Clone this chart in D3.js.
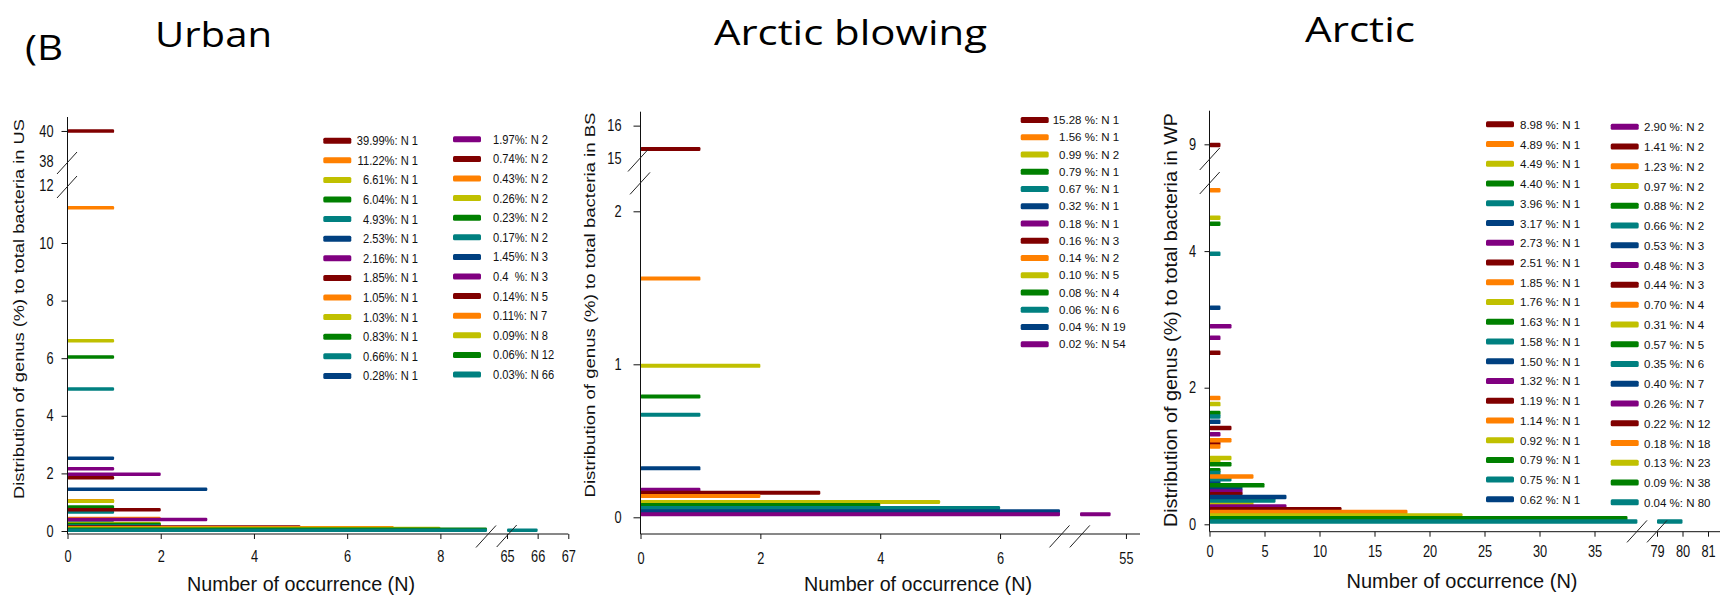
<!DOCTYPE html>
<html>
<head>
<meta charset="utf-8">
<script src="https://cdn.jsdelivr.net/npm/d3@7"></script>
<style>
  body { margin: 0; background: #fff; }
  svg { display: block; font-family: "Liberation Sans", Arial, sans-serif; }
  text { white-space: pre; }
</style>
</head>
<body>
<svg id="chart" width="1720" height="599"></svg>
<script>
const palette = ['#800000', '#ff8000', '#c0c000', '#008000', '#008080', '#004080', '#800080'];

// Urban (US)
const urbanPct = [39.99, 11.22, 6.61, 6.04, 4.93, 2.53, 2.16, 1.85, 1.05, 1.03, 0.83, 0.66, 0.28,
                  1.97, 0.74, 0.43, 0.26, 0.23, 0.17, 1.45, 0.4, 0.14, 0.11, 0.09, 0.06, 0.03];
const urbanN = [1, 1, 1, 1, 1, 1, 1, 1, 1, 1, 1, 1, 1,
                2, 2, 2, 2, 2, 2, 3, 3, 5, 7, 8, 12, 66];

// Arctic blowing (BS)
const blowingPct = [15.28, 1.56, 0.99, 0.79, 0.67, 0.32, 0.18, 0.16, 0.14, 0.10, 0.08, 0.06, 0.04, 0.02];
const blowingN = [1, 1, 2, 1, 1, 1, 1, 3, 2, 5, 4, 6, 19, 54];

// Arctic (WP)
const arcticPct = [8.98, 4.89, 4.49, 4.40, 3.96, 3.17, 2.73, 2.51, 1.85, 1.76, 1.63, 1.58, 1.50, 1.32, 1.19, 1.14, 0.92, 0.79, 0.75, 0.62,
                   2.90, 1.41, 1.23, 0.97, 0.88, 0.66, 0.53, 0.48, 0.44, 0.70, 0.31, 0.57, 0.35, 0.40, 0.26, 0.22, 0.18, 0.13, 0.09, 0.04];
const arcticN = [1, 1, 1, 1, 1, 1, 1, 1, 1, 1, 1, 1, 1, 1, 1, 1, 1, 1, 1, 1,
                 2, 2, 2, 2, 2, 2, 3, 3, 3, 4, 4, 5, 6, 7, 7, 12, 18, 23, 38, 80];

// tick labels
const urbanYTicksLow = [0, 2, 4, 6, 8, 10, 12], urbanYTicksHigh = [38, 40];
const urbanXTicksLow = [0, 2, 4, 6, 8], urbanXTicksHigh = [65, 66, 67];
const blowingYTicksLow = [0, 1, 2], blowingYTicksHigh = [15, 16];
const blowingXTicksLow = [0, 2, 4, 6], blowingXTicksHigh = [55];
const arcticYTicksLow = [0, 2, 4], arcticYTicksHigh = [9];
const arcticXTicksLow = [0, 5, 10, 15, 20, 25, 30, 35], arcticXTicksHigh = [79, 80, 81];

const svg = d3.select('#chart');

function label(parent, x, y, txt, size, sx, anchor) {
  return parent.append('text')
    .attr('transform', `translate(${x},${y}) scale(${sx},1)`)
    .attr('text-anchor', anchor || 'start')
    .attr('font-size', size)
    .attr('fill', '#111')
    .text(txt);
}

function slash(g, cx, cy) {
  g.append('line')
    .attr('x1', cx - 10).attr('y1', cy + 11)
    .attr('x2', cx + 10).attr('y2', cy - 11)
    .attr('stroke', '#222').attr('stroke-width', 1);
}

const fmtUrban = v => Math.round(v * 100) % 10 === 0 && v < 1 ? v.toFixed(1) + '  ' : v.toFixed(2);
const fmtOther = v => v.toFixed(2) + ' ';

const panels = [
  {
    pct: urbanPct, n: urbanN, fmt: fmtUrban,
    ax: 67.5, axY: 534, top: 117, xEnd: 568.3, tickY: 6, tickLabelGap: 14, xLabelY: 562,
    yLow: d3.scaleLinear().domain([0, 12]).range([531, 185.4]),
    yHigh: d3.scaleLinear().domain([38, 40.93]).range([161, 117]),
    xLow: d3.scaleLinear().domain([0, 9]).range([67.5, 487]),
    xHigh: d3.scaleLinear().domain([65, 67]).range([507, 568.3]),
    yTicksLow: urbanYTicksLow, yTicksHigh: urbanYTicksHigh, labelOnly: [12, 38],
    xTicksLow: urbanXTicksLow, xTicksHigh: urbanXTicksHigh,
    ySlashes: [[67, 163], [67, 187]], xSlashes: [[486, 536.5], [506.7, 536]],
    barH: 3.5,
    legend: { size: 12.5, sx: 0.89, cols: [
      { from: 0, to: 13, swX: 323.3, tx: 418, anchor: 'end', y0: 140.7, dy: 19.6 },
      { from: 13, to: 26, swX: 453, tx: 493, anchor: 'start', y0: 139.3, dy: 19.6 }] },
    yTitle: { text: 'Distribution of genus (%) to total bacteria in US', x: 24, y: 309, len: 380, size: 15 },
    xTitle: { x: 301, y: 591, len: 228 },
    title: { text: 'Urban', x: 155, y: 47, len: 117 }
  },
  {
    pct: blowingPct, n: blowingN, fmt: fmtOther,
    ax: 640.5, axY: 534, top: 111.7, xEnd: 1140, tickY: 7, tickLabelGap: 19, xLabelY: 564,
    yLow: d3.scaleLinear().domain([0, 2.2]).range([517.3, 180.7]),
    yHigh: d3.scaleLinear().domain([14.9, 16.43]).range([161.3, 111.7]),
    xLow: d3.scaleLinear().domain([0, 7]).range([640.5, 1060]),
    xHigh: d3.scaleLinear().domain([52, 55.5]).range([1080, 1133.6]),
    yTicksLow: blowingYTicksLow, yTicksHigh: blowingYTicksHigh, labelOnly: [15],
    xTicksLow: blowingXTicksLow, xTicksHigh: blowingXTicksHigh,
    ySlashes: [[638, 160.5], [640, 183.4]], xSlashes: [[1059.5, 536.4], [1079.8, 536.4]],
    barH: 4,
    legend: { size: 11.5, sx: 1, split: true, cols: [
      { from: 0, to: 14, swX: 1020.7, tx: 1081.5, anchor: 'end', y0: 120, dy: 17.25 }] },
    yTitle: { text: 'Distribution of genus (%) to total bacteria in BS', x: 595, y: 305, len: 385, size: 15 },
    xTitle: { x: 918, y: 591, len: 228 },
    title: { text: 'Arctic blowing', x: 714, y: 45, len: 273 }
  },
  {
    pct: arcticPct, n: arcticN, fmt: fmtOther,
    ax: 1209.5, axY: 531.7, top: 110.7, xEnd: 1720, tickY: 5, tickLabelGap: 13.5, xLabelY: 557,
    yLow: d3.scaleLinear().domain([0, 5]).range([524.3, 182.8]),
    yHigh: d3.scaleLinear().domain([8.5, 9.99]).range([161.3, 110.7]),
    xLow: d3.scaleLinear().domain([0, 38.9]).range([1209.5, 1637.4]),
    xHigh: d3.scaleLinear().domain([79, 81.5]).range([1657, 1720.75]),
    yTicksLow: arcticYTicksLow, yTicksHigh: arcticYTicksHigh, labelOnly: [],
    xTicksLow: arcticXTicksLow, xTicksHigh: arcticXTicksHigh,
    ySlashes: [[1209.7, 159], [1209.7, 183]], xSlashes: [[1637, 531.4], [1657, 531.4]],
    barH: 4.5,
    legend: { size: 11.5, sx: 1, cols: [
      { from: 0, to: 20, swX: 1486, tx: 1520, anchor: 'start', y0: 124.3, dy: 19.74 },
      { from: 20, to: 40, swX: 1610.7, tx: 1644, anchor: 'start', y0: 126.7, dy: 19.77 }] },
    yTitle: { text: 'Distribution of genus (%) to total bacteria in WP', x: 1177, y: 320, len: 414, size: 19 },
    xTitle: { x: 1462, y: 588, len: 231 },
    title: { text: 'Arctic', x: 1305, y: 42, len: 110 }
  }
];

function styleYAxis(sel, p) {
  sel.select('.domain').remove();
  sel.selectAll('.tick line').attr('stroke', '#111');
  sel.selectAll('.tick').filter(d => p.labelOnly.includes(d)).select('line').remove();
  sel.selectAll('.tick text')
    .attr('x', null)
    .attr('fill', '#111')
    .attr('font-size', 16)
    .attr('font-family', '"Liberation Sans", Arial, sans-serif')
    .attr('transform', `translate(${-p.tickLabelGap},0) scale(0.8,1)`);
}

function styleXAxis(sel, p) {
  sel.select('.domain').remove();
  sel.selectAll('.tick line').attr('stroke', '#111');
  sel.selectAll('.tick text')
    .attr('y', null).attr('dy', null)
    .attr('fill', '#111')
    .attr('font-size', 16)
    .attr('font-family', '"Liberation Sans", Arial, sans-serif')
    .attr('transform', `translate(0,${p.xLabelY - p.axY}) scale(0.8,1)`);
}

panels.forEach(p => {
  const g = svg.append('g');
  const yLowMax = p.yLow.domain()[1];
  const xLowMax = p.xLow.domain()[1];
  const xHighMin = p.xHigh.domain()[0];
  const rows = p.pct.map((v, i) => ({ v, n: p.n[i], c: palette[i % 7], i }));

  // bars
  rows.forEach(d => {
    const ys = d.v <= yLowMax ? p.yLow : p.yHigh;
    const y = ys(d.v) - p.barH / 2;
    g.append('rect')
      .attr('x', p.xLow(0)).attr('y', y)
      .attr('width', p.xLow(Math.min(d.n, xLowMax)) - p.xLow(0))
      .attr('height', p.barH).attr('rx', 1.2)
      .attr('fill', d.c);
    if (d.n > xHighMin) {
      g.append('rect')
        .attr('x', p.xHigh(xHighMin)).attr('y', y)
        .attr('width', p.xHigh(d.n) - p.xHigh(xHighMin))
        .attr('height', p.barH).attr('rx', 1.2)
        .attr('fill', d.c);
    }
  });

  // axes lines
  g.append('line').attr('x1', p.ax).attr('x2', p.ax).attr('y1', p.top).attr('y2', p.axY)
    .attr('stroke', '#111');
  g.append('line').attr('x1', p.ax).attr('x2', p.xEnd).attr('y1', p.axY).attr('y2', p.axY)
    .attr('stroke', '#111');

  const ax = p.ax;
  g.append('g').attr('transform', `translate(${ax},0)`)
    .call(d3.axisLeft(p.yLow).tickValues(p.yTicksLow).tickSize(p.tickY).tickFormat(d3.format('d')))
    .call(s => styleYAxis(s, p));
  g.append('g').attr('transform', `translate(${ax},0)`)
    .call(d3.axisLeft(p.yHigh).tickValues(p.yTicksHigh).tickSize(p.tickY).tickFormat(d3.format('d')))
    .call(s => styleYAxis(s, p));
  g.append('g').attr('transform', `translate(0,${p.axY})`)
    .call(d3.axisBottom(p.xLow).tickValues(p.xTicksLow).tickSize(5).tickFormat(d3.format('d')))
    .call(s => styleXAxis(s, p));
  g.append('g').attr('transform', `translate(0,${p.axY})`)
    .call(d3.axisBottom(p.xHigh).tickValues(p.xTicksHigh).tickSize(5).tickFormat(d3.format('d')))
    .call(s => styleXAxis(s, p));

  p.ySlashes.forEach(s => slash(g, s[0], s[1]));
  p.xSlashes.forEach(s => slash(g, s[0], s[1]));

  // legend
  const L = p.legend;
  L.cols.forEach(col => {
    rows.slice(col.from, col.to).forEach((d, k) => {
      const y = col.y0 + k * col.dy;
      g.append('rect').attr('x', col.swX).attr('y', y - 3).attr('width', 28).attr('height', 6)
        .attr('rx', 1.5).attr('fill', d.c);
      if (L.split) {
        label(g, col.tx, y + 4, d.v.toFixed(2), L.size, L.sx, 'end');
        label(g, col.tx, y + 4, ' %: N ' + d.n, L.size, L.sx, 'start');
      } else {
        label(g, col.tx, y + 4.5, p.fmt(d.v) + '%: N ' + d.n, L.size, L.sx, col.anchor);
      }
    });
  });

  // titles
  g.append('text')
    .attr('transform', `translate(${p.yTitle.x},${p.yTitle.y}) rotate(-90)`)
    .attr('text-anchor', 'middle')
    .attr('font-size', p.yTitle.size)
    .attr('textLength', p.yTitle.len).attr('lengthAdjust', 'spacingAndGlyphs')
    .attr('fill', '#111')
    .text(p.yTitle.text);
  g.append('text')
    .attr('x', p.xTitle.x).attr('y', p.xTitle.y)
    .attr('text-anchor', 'middle')
    .attr('font-size', 21)
    .attr('textLength', p.xTitle.len).attr('lengthAdjust', 'spacingAndGlyphs')
    .attr('fill', '#111')
    .text('Number of occurrence (N)');
  g.append('text')
    .attr('x', p.title.x).attr('y', p.title.y)
    .attr('font-family', '"Open Sans", "Noto Sans", sans-serif')
    .attr('font-size', 35)
    .attr('textLength', p.title.len).attr('lengthAdjust', 'spacingAndGlyphs')
    .attr('fill', '#000')
    .text(p.title.text);
});

svg.append('text')
  .attr('x', 25).attr('y', 60)
  .attr('font-family', '"Open Sans", "Noto Sans", sans-serif')
  .attr('font-size', 35)
  .attr('textLength', 38).attr('lengthAdjust', 'spacingAndGlyphs')
  .text('(B');
</script>
</body>
</html>
